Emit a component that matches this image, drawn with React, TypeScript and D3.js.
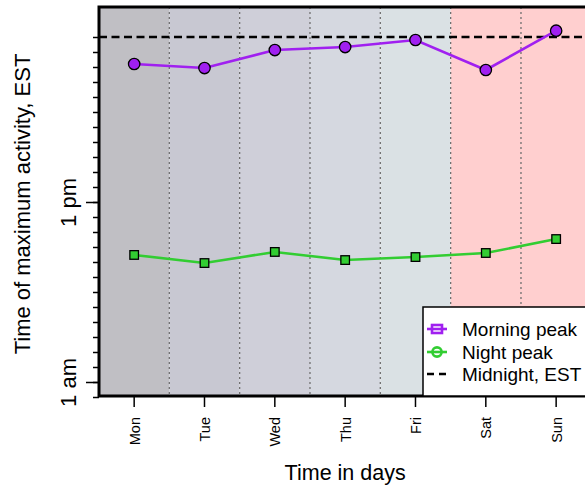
import React, { useEffect, useRef } from "react";
import * as d3 from "d3";

const days = ["Mon", "Tue", "Wed", "Thu", "Fri", "Sat", "Sun"];
const morningPeak = [22.2, 21.93, 23.13, 23.33, 23.8, 21.8, 24.42];
const nightPeak = [9.47, 8.93, 9.67, 9.13, 9.33, 9.6, 10.53];
const bandColors = ["#c0bfc4", "#c8c8d2", "#cfcfd9", "#d5d8e0", "#dae1e4", "#ffcfcf", "#ffcfcf"];
const midnightHour = 24;
const majorTicks = [1, 13];
const majorTickLabels = ["1 am", "1 pm"];
const minorTicks = d3.range(0, 25);
const legendLabels = ["Morning peak", "Night peak", "Midnight, EST"];

const W = 585;
const H = 487;
const FONT = "'Liberation Sans', Arial, Helvetica, sans-serif";
const PURPLE = "#a020f0";
const GREEN = "#32cd32";

export default function App() {
  const ref = useRef<SVGSVGElement | null>(null);

  useEffect(() => {
    const svg = d3.select(ref.current);
    svg.selectAll("*").remove();

    const left = 99, top = 7, bottom = 397;
    const x = d3.scaleBand<string>().domain(days).range([left, left + 7 * 70.33]).padding(0);
    const y = d3.scaleLinear().domain([0, 26]).range([bottom, top]);
    const cx = (d: string) => (x(d) as number) + x.bandwidth() / 2;
    const right = left + 7 * 70.33;

    // bands
    svg.append("g").selectAll("rect").data(days).join("rect")
      .attr("x", (d) => x(d) as number)
      .attr("y", top)
      .attr("width", x.bandwidth())
      .attr("height", bottom - top)
      .attr("fill", (_d, i) => bandColors[i]);

    // dotted separators
    svg.append("g").selectAll("line").data(days.slice(1)).join("line")
      .attr("x1", (d) => x(d) as number)
      .attr("x2", (d) => x(d) as number)
      .attr("y1", top)
      .attr("y2", bottom)
      .attr("stroke", "#707070")
      .attr("stroke-width", 1.3)
      .attr("stroke-dasharray", "2,3");

    // midnight line
    svg.append("line")
      .attr("x1", left).attr("x2", right + 20)
      .attr("y1", y(midnightHour)).attr("y2", y(midnightHour))
      .attr("stroke", "#000").attr("stroke-width", 2.5)
      .attr("stroke-dasharray", "8,4.5");

    const line = d3.line<number>()
      .x((_d, i) => cx(days[i]))
      .y((d) => y(d));

    svg.append("path").datum(morningPeak).attr("d", line)
      .attr("fill", "none").attr("stroke", PURPLE).attr("stroke-width", 2.6);
    svg.append("path").datum(nightPeak).attr("d", line)
      .attr("fill", "none").attr("stroke", GREEN).attr("stroke-width", 2.6);

    svg.append("g").selectAll("circle").data(morningPeak).join("circle")
      .attr("cx", (_d, i) => cx(days[i]))
      .attr("cy", (d) => y(d))
      .attr("r", 5.7)
      .attr("fill", PURPLE)
      .attr("stroke", "#000").attr("stroke-width", 1.3);

    svg.append("g").selectAll("rect").data(nightPeak).join("rect")
      .attr("x", (_d, i) => cx(days[i]) - 4.3)
      .attr("y", (d) => y(d) - 4.3)
      .attr("width", 8.6).attr("height", 8.6)
      .attr("fill", GREEN)
      .attr("stroke", "#000").attr("stroke-width", 1.3);

    // Y axis: minor ticks
    const yMinor = d3.axisLeft(y).tickValues(minorTicks).tickSize(6).tickFormat(() => "");
    const gMinor = svg.append("g").attr("transform", `translate(${left},0)`).call(yMinor);
    gMinor.select(".domain").remove();
    gMinor.selectAll("line").attr("stroke-width", 1.5);

    const yMajor = d3.axisLeft(y).tickValues(majorTicks).tickSize(13)
      .tickFormat((_d, i) => majorTickLabels[i]);
    const gMajor = svg.append("g").attr("transform", `translate(${left},0)`).call(yMajor);
    gMajor.select(".domain").remove();
    gMajor.selectAll("line").attr("stroke-width", 1.5);
    gMajor.selectAll("text")
      .attr("x", null).attr("dy", null)
      .attr("transform", "translate(-23,0) rotate(-90)")
      .attr("text-anchor", "middle")
      .attr("font-family", FONT)
      .attr("font-size", 22)
      .attr("fill", "#000");

    // X axis
    const xAxis = d3.axisBottom(x).tickSize(11).tickSizeOuter(0);
    const gx = svg.append("g").attr("transform", `translate(0,${bottom - 1})`).call(xAxis);
    gx.select(".domain").remove();
    gx.selectAll("line").attr("stroke-width", 1.5);
    gx.selectAll("text")
      .attr("y", null).attr("dy", null)
      .attr("transform", "translate(5.5,21) rotate(-90)")
      .attr("text-anchor", "end")
      .attr("font-family", FONT)
      .attr("font-size", 14.5)
      .attr("fill", "#000");

    // border
    svg.append("path")
      .attr("d", `M${right + 20},${top}H${left}V${bottom - 1}H${right + 20}`)
      .attr("fill", "none").attr("stroke", "#000").attr("stroke-width", 3);

    // axis titles
    svg.append("text")
      .attr("x", (left + right) / 2).attr("y", 480)
      .attr("text-anchor", "middle")
      .attr("font-family", FONT).attr("font-size", 21.5)
      .text("Time in days");
    svg.append("text")
      .attr("transform", `translate(30,${(top + bottom) / 2 + 2}) rotate(-90)`)
      .attr("text-anchor", "middle")
      .attr("font-family", FONT).attr("font-size", 22)
      .text("Time of maximum activity, EST");

    // legend
    const lg = svg.append("g");
    lg.append("rect")
      .attr("x", 423).attr("y", 307).attr("width", 200).attr("height", bottom - 1 - 307)
      .attr("fill", "#fff").attr("stroke", "#000").attr("stroke-width", 1.5);
    const rowsY = [329, 352, 374];
    const sx = 437;
    // morning
    lg.append("line").attr("x1", sx - 10).attr("x2", sx + 10).attr("y1", rowsY[0]).attr("y2", rowsY[0])
      .attr("stroke", PURPLE).attr("stroke-width", 2.6);
    lg.append("rect").attr("x", sx - 5).attr("y", rowsY[0] - 4).attr("width", 10).attr("height", 8)
      .attr("fill", "none").attr("stroke", PURPLE).attr("stroke-width", 2.6);
    // night
    lg.append("line").attr("x1", sx - 10).attr("x2", sx + 10).attr("y1", rowsY[1]).attr("y2", rowsY[1])
      .attr("stroke", GREEN).attr("stroke-width", 2.6);
    lg.append("circle").attr("cx", sx).attr("cy", rowsY[1]).attr("r", 4.6)
      .attr("fill", "none").attr("stroke", GREEN).attr("stroke-width", 2.6);
    // midnight
    lg.append("line").attr("x1", sx - 10).attr("x2", sx + 10).attr("y1", rowsY[2]).attr("y2", rowsY[2])
      .attr("stroke", "#000").attr("stroke-width", 2.5).attr("stroke-dasharray", "7,5");
    lg.selectAll("text.lab").data(legendLabels).join("text")
      .attr("class", "lab")
      .attr("x", 462)
      .attr("y", (_d, i) => rowsY[i] + 7)
      .attr("font-family", FONT).attr("font-size", 19)
      .text((d) => d);
  }, []);

  return (
    <svg
      ref={ref}
      width={W}
      height={H}
      style={{ position: "absolute", left: 0, top: 0, background: "#fff" }}
    />
  );
}
